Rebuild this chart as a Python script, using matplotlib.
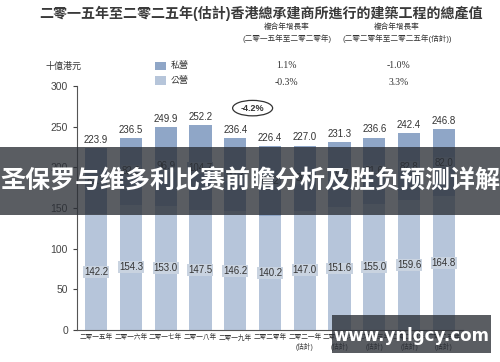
import numpy as np
import matplotlib
matplotlib.use("Agg")
import matplotlib.pyplot as plt
from matplotlib.patches import Ellipse, Rectangle

plt.rcParams['font.family'] = ['Liberation Sans', 'Noto Sans CJK TC']

# data (十億港元)
years = ["二零一五年", "二零一六年", "二零一七年", "二零一八年", "二零一九年",
         "二零二零年", "二零二一年\n(估計)", "二零二二年\n(估計)",
         "二零二三年\n(估計)", "二零二四年\n(估計)", "二零二五年\n(估計)"]
public = [142.2, 154.3, 153.0, 147.5, 146.2, 140.2, 147.0, 151.6, 155.0, 159.6, 164.8]
private = [81.7, 82.2, 96.9, 104.7, 90.2, 86.2, 80.0, 79.7, 81.6, 82.8, 82.0]
total = [223.9, 236.5, 249.9, 252.2, 236.4, 226.4, 227.0, 231.3, 236.6, 242.4, 246.8]

c_priv = '#8fa6c7'
c_pub = '#b6c5da'
txt = '#333333'

fig = plt.figure(figsize=(5, 3.62), dpi=100)
ax = fig.add_axes([0.154, 0.088, 0.772, 0.674])

x = np.arange(len(years))
ax.bar(x, public, width=0.64, color=c_pub)
ax.bar(x, private, width=0.64, bottom=public, color=c_priv)

for i in range(len(x)):
    ax.text(x[i], public[i] / 2, f"{public[i]:.1f}", ha='center', va='center',
            fontsize=7, color=txt,
            bbox=dict(boxstyle='square,pad=0.1', fc='#c9d3e0', ec='none'))
    ax.text(x[i], public[i] + private[i] / 2, f"{private[i]:.1f}", ha='center',
            va='center', fontsize=7, color=txt,
            bbox=dict(boxstyle='square,pad=0.1', fc='#a4b6cf', ec='none'))
    ax.text(x[i], total[i] + 4, f"{total[i]:.1f}", ha='center', va='bottom',
            fontsize=7, color=txt)

# change 2019 -> 2020
ax.add_patch(Ellipse((4.5, 273), 1.15, 19, fc='white', ec='#333333', lw=0.9))
ax.text(4.5, 273, "-4.2%", ha='center', va='center', fontsize=6.5,
        fontweight='bold', color=txt)

ax.set_xlim(-0.55, 10.55)
ax.set_ylim(0, 300)
ax.set_yticks(np.arange(0, 301, 50))
ax.set_xticks(x)
ax.set_xticklabels(years, fontsize=4.8, color=txt, linespacing=1.3)
ax.tick_params(axis='x', length=0, pad=3)
ax.tick_params(axis='y', labelsize=7.5, colors='#444444', length=3, width=0.8)
for s in ['top', 'right']:
    ax.spines[s].set_visible(False)
ax.spines['left'].set_color('#555555')
ax.spines['bottom'].set_color('#555555')
ax.spines['left'].set_bounds(0, 300)

# header
fig.text(0.522, 0.962, "二零一五年至二零二五年(估計)香港總承建商所進行的建築工程的總產值",
         ha='center', va='center', fontsize=10.1, color='#3a3a3a', fontweight='bold')
fig.text(0.574, 0.909, "複合年增長率\n(二零一五年至二零二零年)", ha='center', va='center',
         fontsize=5.5, color=txt, linespacing=1.4)
fig.text(0.794, 0.909, "複合年增長率\n(二零二零年至二零二五年(估計))", ha='center', va='center',
         fontsize=5.5, color=txt, linespacing=1.4)
fig.text(0.128, 0.818, "十億港元", ha='center', va='center', fontsize=6.5, color=txt)
fig.patches.append(Rectangle((0.309, 0.806), 0.022, 0.024, transform=fig.transFigure,
                             fc=c_priv, ec='none'))
fig.patches.append(Rectangle((0.309, 0.765), 0.022, 0.024, transform=fig.transFigure,
                             fc=c_pub, ec='none'))
fig.text(0.342, 0.818, "私營", ha='left', va='center', fontsize=6.5, color=txt)
fig.text(0.342, 0.777, "公營", ha='left', va='center', fontsize=6.5, color=txt)
for xx, v1, v2 in [(0.572, "1.1%", "-0.3%"), (0.797, "-1.0%", "3.3%")]:
    fig.text(xx, 0.818, v1, ha='center', va='center', fontsize=7,
             family='Liberation Serif', color=txt)
    fig.text(xx, 0.771, v2, ha='center', va='center', fontsize=7,
             family='Liberation Serif', color=txt)

# overlay banner
fig.patches.append(Rectangle((0, 0.406), 1, 0.188, transform=fig.transFigure,
                             fc='#2b2f36', ec='none', alpha=0.78, zorder=5))
fig.text(0.5, 0.5, "圣保罗与维多利比赛前瞻分析及胜负预测详解", ha='center', va='center',
         fontsize=18, fontweight='bold', color='white',
         family=['Noto Sans CJK SC'], zorder=6)

# watermark
fig.patches.append(Rectangle((0.664, 0.025), 0.318, 0.105, transform=fig.transFigure,
                             fc='#2b2f36', ec='none', alpha=0.78, zorder=5))
fig.text(0.823, 0.072, "www.ynlgcy.com", ha='center', va='center', fontsize=12,
         fontweight='bold', color='white', family='DejaVu Sans', zorder=6)

fig.savefig("out.png", dpi=100)
